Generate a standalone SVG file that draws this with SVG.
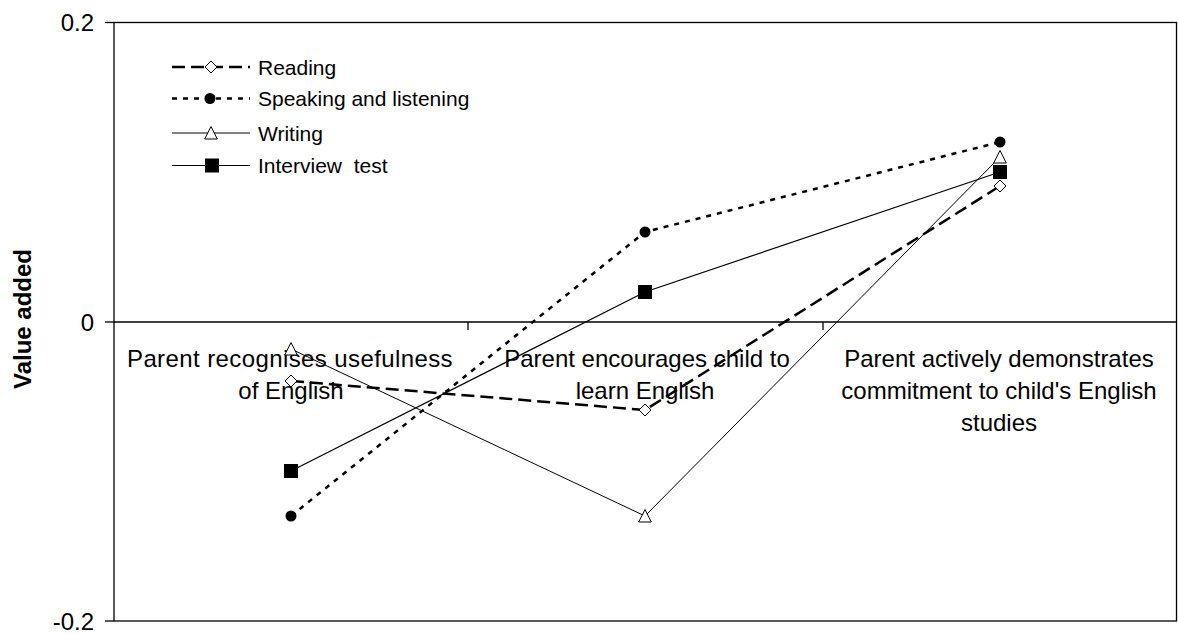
<svg xmlns="http://www.w3.org/2000/svg" width="1178" height="634" viewBox="0 0 1178 634">
  <style>
    .t { font-family: "Liberation Sans", Arial, sans-serif; fill: #000; }
    .cat { font-size: 24px; text-anchor: middle; }
    .ax { font-size: 24px; text-anchor: end; }
    .leg { font-size: 21px; white-space: pre; }
    .axis { stroke: #000; stroke-width: 1.3; fill: none; }
    .rd { stroke: #000; stroke-width: 2.5; stroke-dasharray: 13 6; fill: none; }
    .sp { stroke: #000; stroke-width: 2.5; stroke-dasharray: 5 6; fill: none; }
    .wr { stroke: #000; stroke-width: 1; fill: none; }
    .iv { stroke: #000; stroke-width: 1.2; fill: none; }
  </style>
  <defs>
    <polygon id="mDia" points="0,-6 6,0 0,6 -6,0" fill="#fff" stroke="#000" stroke-width="1"/>
    <circle id="mCir" r="5.5" fill="#000"/>
    <polygon id="mTri" points="0,-6.5 6.3,6 -6.3,6" fill="#fff" stroke="#000" stroke-width="1"/>
    <rect id="mSq" x="-7" y="-7" width="14" height="14" fill="#000"/>
  </defs>
  <rect width="1178" height="634" fill="#fff"/>

  <g id="plot-frame">
    <rect x="114" y="22.5" width="1062.5" height="598.5" class="axis"/>
    <line x1="114" y1="322" x2="1176.5" y2="322" class="axis"/>
    <line x1="105" y1="22.5" x2="114" y2="22.5" class="axis"/>
    <line x1="105" y1="322" x2="114" y2="322" class="axis"/>
    <line x1="105" y1="621" x2="114" y2="621" class="axis"/>
    <line x1="468" y1="322" x2="468" y2="330" class="axis"/>
    <line x1="823" y1="322" x2="823" y2="330" class="axis"/>
  </g>

  <g id="axis-labels">
    <text class="t ax" x="94" y="31">0.2</text>
    <text class="t ax" x="94" y="330.5">0</text>
    <text class="t ax" x="94" y="629.5">-0.2</text>
    <text class="t" font-size="24" font-weight="bold" text-anchor="middle" transform="translate(31,319) rotate(-90)">Value added</text>
  </g>

  <g id="category-labels">
    <text class="t cat" x="290" y="367" letter-spacing="0.4">Parent recognises usefulness</text>
    <text class="t cat" x="291" y="399">of English</text>
    <text class="t cat" x="647" y="367">Parent encourages child to</text>
    <text class="t cat" x="645" y="399">learn English</text>
    <text class="t cat" x="999" y="367">Parent actively demonstrates</text>
    <text class="t cat" x="999" y="399">commitment to child's English</text>
    <text class="t cat" x="999" y="431">studies</text>
  </g>

  <g id="connectors">
    <polyline id="line-reading" class="rd" points="291,381 645,410 1000,186"/>
    <polyline id="line-speaking" class="sp" points="291,516 645,232 1000,142"/>
    <polyline id="line-writing" class="wr" points="291,349 645,516 1000,157"/>
    <polyline id="line-interview" class="iv" points="291,471 645,292 1000,172"/>
  </g>

  <g id="series-reading">
    <use href="#mDia" x="291" y="381"/>
    <use href="#mDia" x="645" y="410"/>
    <use href="#mDia" x="1000" y="186"/>
  </g>
  <g id="series-speaking">
    <use href="#mCir" x="291" y="516"/>
    <use href="#mCir" x="645" y="232"/>
    <use href="#mCir" x="1000" y="142"/>
  </g>
  <g id="series-writing">
    <use href="#mTri" x="291" y="349"/>
    <use href="#mTri" x="645" y="516"/>
    <use href="#mTri" x="1000" y="157"/>
  </g>
  <g id="series-interview">
    <use href="#mSq" x="291" y="471"/>
    <use href="#mSq" x="645" y="292"/>
    <use href="#mSq" x="1000" y="172"/>
  </g>

  <g id="legend">
    <g id="legend-reading">
      <line class="rd" x1="172" y1="67" x2="250" y2="67" stroke-dasharray="18 6"/>
      <use href="#mDia" x="211" y="67"/>
      <text class="t leg" x="258" y="74.5">Reading</text>
    </g>
    <g id="legend-speaking">
      <line class="sp" x1="172" y1="98.5" x2="250" y2="98.5"/>
      <use href="#mCir" x="210" y="98.5"/>
      <text class="t leg" x="258" y="106">Speaking and listening</text>
    </g>
    <g id="legend-writing">
      <line class="wr" x1="172" y1="133" x2="250" y2="133"/>
      <use href="#mTri" x="211" y="133"/>
      <text class="t leg" x="258" y="140.5">Writing</text>
    </g>
    <g id="legend-interview">
      <line class="iv" x1="172" y1="165.5" x2="250" y2="165.5"/>
      <use href="#mSq" x="212" y="165.5"/>
      <text class="t leg" x="258" y="173" xml:space="preserve">Interview  test</text>
    </g>
  </g>
</svg>
